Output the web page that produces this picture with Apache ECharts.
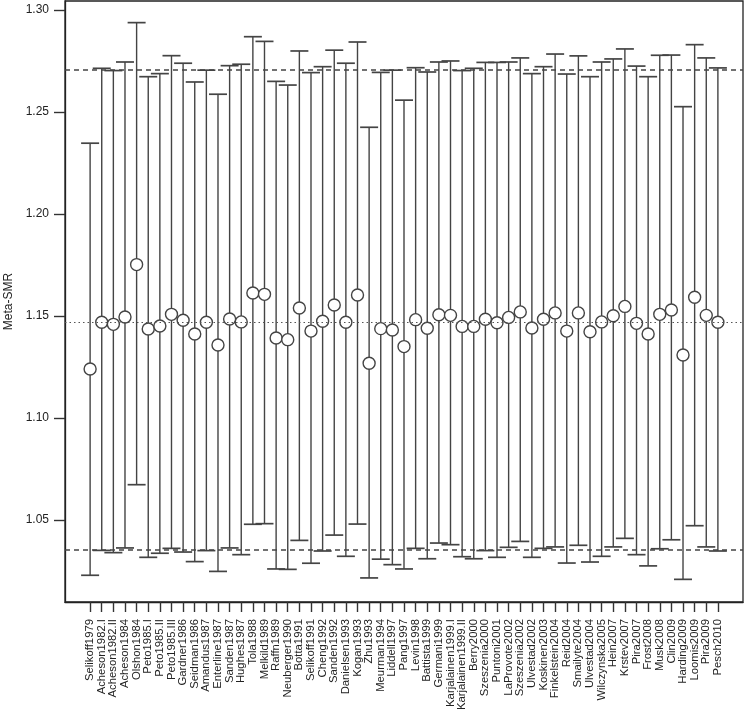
<!DOCTYPE html>
<html>
<head>
<meta charset="utf-8">
<script src="https://cdn.jsdelivr.net/npm/echarts@6/dist/echarts.min.js"></script>
<style>
html,body{margin:0;padding:0;background:#fff;}
#chart{width:744px;height:712px;}
</style>
</head>
<body>
<div id="chart"></div>
<script>
var studies = ["Selikoff1979","Acheson1982.I","Acheson1982.II","Acheson1984","Olshon1984","Peto1985.I","Peto1985.II","Peto1985.III","Gardner1986","Seidman1986",
"Amandus1987","Enterline1987","Sanden1987","Hughes1987","Tola1988","Melkild1989","Raffn1989","Neuberger1990","Botta1991","Selikoff1991",
"Cheng1992","Sanden1992","Danielsen1993","Kogan1993","Zhu1993","Meurman1994","Liddell1997","Pang1997","Levin1998","Battista1999",
"Germani1999","Karjalainen1999.I","Karjalainen1999.II","Berry2000","Szeszenia2000","Puntoni2001","LaProvote2002","Szeszenia2002","Ulvestad2002","Koskinen2003",
"Finkelstein2004","Reid2004","Smailyte2004","Ulvestad2004","Wilczynska2005","Hein2007","Krstev2007","Pira2007","Frost2008","Musk2008",
"Clin2009","Harding2009","Loomis2009","Pira2009","Pesch2010"];

var smr = [1.1240,1.1469,1.1459,1.1495,1.1752,1.1436,1.1451,1.1508,1.1479,1.1412,
1.1469,1.1358,1.1485,1.1471,1.1613,1.1606,1.1392,1.1384,1.1539,1.1426,
1.1474,1.1554,1.1469,1.1603,1.1268,1.1438,1.1431,1.1350,1.1482,1.1440,
1.1506,1.1503,1.1449,1.1449,1.1484,1.1467,1.1493,1.1520,1.1441,1.1484,
1.1515,1.1426,1.1515,1.1423,1.1471,1.1501,1.1547,1.1464,1.1412,1.1508,
1.1529,1.1309,1.1592,1.1503,1.1469];

var upper = [1.2347,1.2714,1.2703,1.2745,1.2938,1.2673,1.2688,1.2776,1.2739,1.2647,
1.2705,1.2587,1.2727,1.2734,1.2869,1.2846,1.2650,1.2632,1.2799,1.2693,
1.2722,1.2803,1.2739,1.2843,1.2425,1.2694,1.2705,1.2558,1.2717,1.2696,
1.2745,1.2750,1.2703,1.2714,1.2743,1.2743,1.2745,1.2765,1.2688,1.2722,
1.2784,1.2686,1.2775,1.2673,1.2745,1.2760,1.2809,1.2725,1.2673,1.2778,
1.2779,1.2526,1.2830,1.2765,1.2716];

var lower = [1.0229,1.0351,1.0340,1.0363,1.0673,1.0317,1.0337,1.0361,1.0343,1.0296,
1.0350,1.0248,1.0363,1.0330,1.0479,1.0482,1.0260,1.0258,1.0400,1.0288,
1.0348,1.0426,1.0322,1.0480,1.0216,1.0308,1.0281,1.0260,1.0361,1.0310,
1.0387,1.0379,1.0320,1.0310,1.0350,1.0317,1.0366,1.0395,1.0317,1.0361,
1.0368,1.0289,1.0376,1.0294,1.0322,1.0368,1.0410,1.0330,1.0275,1.0359,
1.0403,1.0209,1.0472,1.0368,1.0348];

var yTicks = [1.05,1.10,1.15,1.20,1.25,1.30];
var dashedRefs = [1.2706,1.0356];
var dottedRefs = [1.1471];

var positions = studies.map(function(_, i){ return i + 1; });
var ciData = positions.map(function(p, i){ return [p, lower[i], upper[i]]; });
var ptData = positions.map(function(p, i){ return [p, smr[i]]; });

var lineColor = '#444';
var axisColor = '#222';
var chart = echarts.init(document.getElementById('chart'));
chart.setOption({
  animation: false,
  backgroundColor: '#fff',
  textStyle: { fontFamily: 'Liberation Sans, Arial, sans-serif', color: '#222' },
  grid: { left: 65, right: 1, top: 1, bottom: 110, show: true, borderColor: axisColor, borderWidth: 1.3, backgroundColor: 'transparent', outerBoundsMode: 'none', containLabel: false },
  xAxis: {
    type: 'value',
    min: 1 - 2.16,
    max: studies.length + 2.16,
    splitLine: { show: false },
    axisLine: { show: true, onZero: false, lineStyle: { color: axisColor, width: 1.3 } },
    axisTick: { show: true, inside: false, length: 10, customValues: positions, lineStyle: { color: '#333', width: 1.4 } },
    axisLabel: {
      customValues: positions,
      rotate: 90,
      margin: 17,
      fontSize: 11.3,
      color: '#222',
      fontFamily: 'Liberation Sans, Arial, sans-serif',
      formatter: function(v){ var k = Math.round(v) - 1; return studies[k] || ''; }
    }
  },
  yAxis: {
    type: 'value',
    min: 1.0098,
    max: 1.3044,
    name: 'Meta-SMR',
    nameLocation: 'middle',
    nameRotate: 90,
    nameGap: 47,
    nameTextStyle: { fontSize: 12, color: '#222', fontFamily: 'Liberation Sans, Arial, sans-serif' },
    splitLine: { show: false },
    axisLine: { show: true, onZero: false, lineStyle: { color: axisColor, width: 1.3 } },
    axisTick: { show: true, inside: false, length: 11, customValues: yTicks, lineStyle: { color: '#333', width: 1.4 } },
    axisLabel: {
      customValues: yTicks,
      margin: 16,
      fontSize: 12,
      color: '#222',
      formatter: function(v){ return v.toFixed(2); }
    }
  },
  series: [
    {
      type: 'custom',
      data: ciData,
      z: 2,
      renderItem: function(params, api){
        var x = api.value(0);
        var lo = api.coord([x, api.value(1)]);
        var hi = api.coord([x, api.value(2)]);
        var hw = 9;
        var st = { stroke: lineColor, lineWidth: 1.4 };
        return {
          type: 'group',
          children: [
            { type: 'line', shape: { x1: lo[0], y1: lo[1], x2: hi[0], y2: hi[1] }, style: st },
            { type: 'line', shape: { x1: lo[0] - hw, y1: lo[1], x2: lo[0] + hw, y2: lo[1] }, style: { stroke: lineColor, lineWidth: 1.7 } },
            { type: 'line', shape: { x1: hi[0] - hw, y1: hi[1], x2: hi[0] + hw, y2: hi[1] }, style: { stroke: lineColor, lineWidth: 1.7 } }
          ]
        };
      }
    },
    {
      type: 'scatter',
      data: ptData,
      z: 4,
      symbol: 'circle',
      symbolSize: 12,
      itemStyle: { color: '#fff', borderColor: lineColor, borderWidth: 1.4, opacity: 1 },
      markLine: {
        silent: true,
        precision: 4,
        symbol: ['none','none'],
        label: { show: false },
        data: dashedRefs.map(function(v){ return { yAxis: v, lineStyle: { type: [5,4], color: lineColor, width: 1.5 } }; })
          .concat(dottedRefs.map(function(v){ return { yAxis: v, lineStyle: { type: [1.5,3], color: '#555', width: 1.1 } }; }))
      }
    }
  ]
});
</script>
</body>
</html>
